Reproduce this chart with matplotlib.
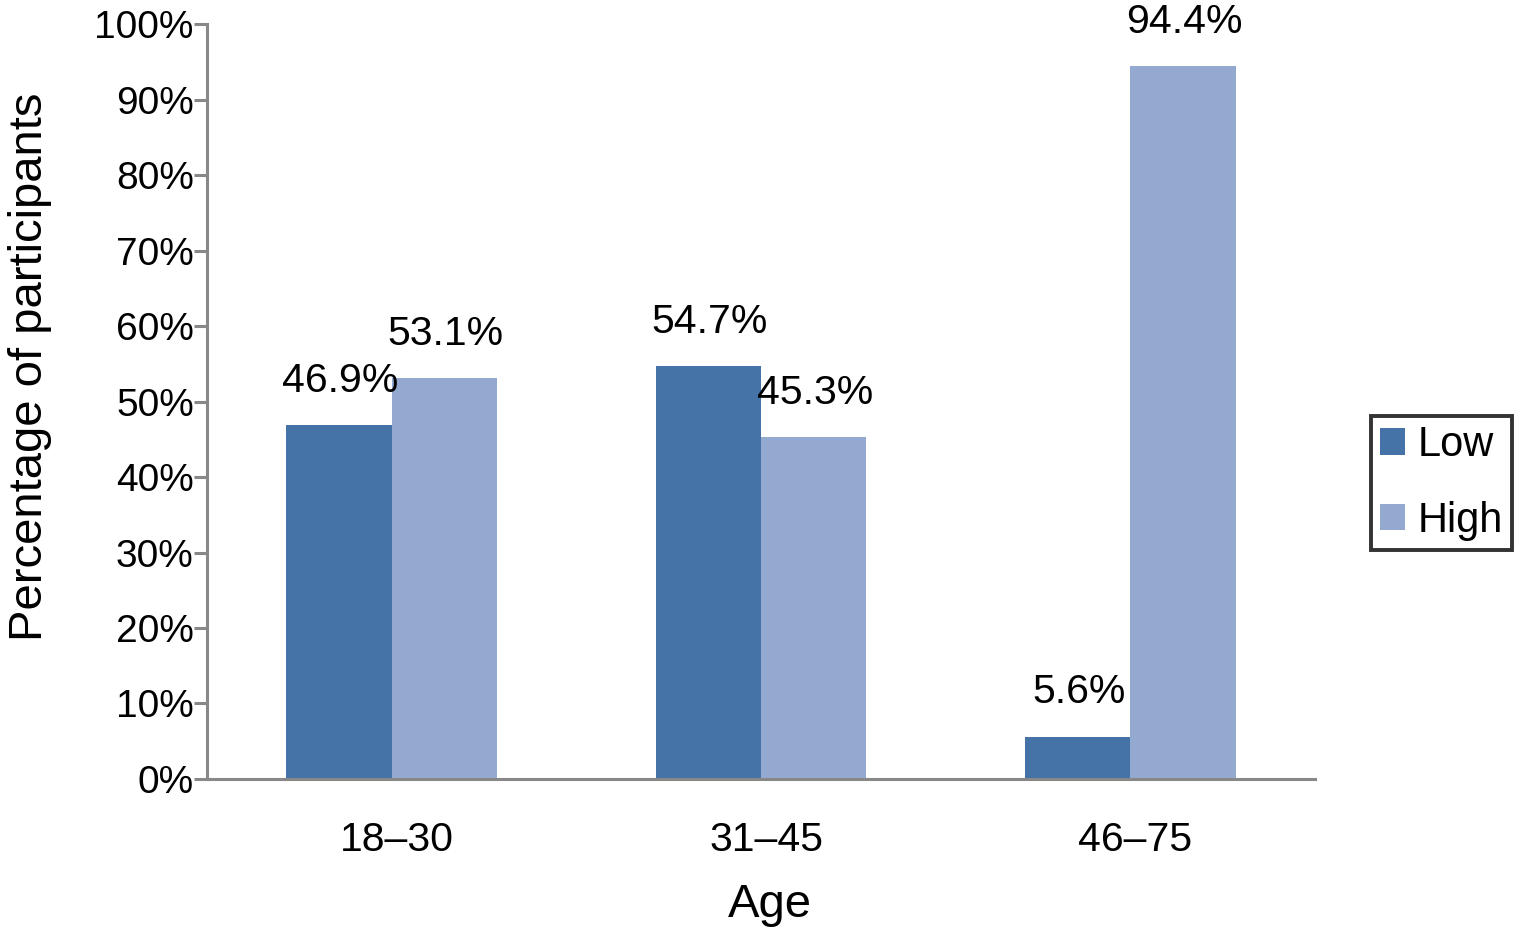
import matplotlib.pyplot as plt
import matplotlib.transforms as mtransforms
import numpy as np
from matplotlib.ticker import PercentFormatter

plt.rcParams['font.family'] = ['Liberation Sans', 'DejaVu Sans']

# Data
age_groups = ['18\u201330', '31\u201345', '46\u201375']
low = [46.9, 54.7, 5.6]
high = [53.1, 45.3, 94.4]
series_names = ['Low', 'High']
colors = ['#4572A7', '#93A9CF']

fig = plt.figure(figsize=(15.15, 9.3), dpi=100)
ax = fig.add_axes([0.1366, 0.1624, 0.868 - 0.1366, 0.974 - 0.1624])

x = np.arange(len(age_groups))
w = 0.285

# Bars for each series, side by side in each age group
bars_low = ax.bar(x - w / 2, low, w, color=colors[0], label=series_names[0])
bars_high = ax.bar(x + w / 2, high, w, color=colors[1], label=series_names[1])

# Value labels above the bars
for bars, vals in [(bars_low, low), (bars_high, high)]:
    for b, v in zip(bars, vals):
        ax.annotate('%.1f%%' % v, xy=(b.get_x() + b.get_width() / 2, v),
                    xytext=(1, 32), textcoords='offset points',
                    ha='center', va='center', fontsize=29.5)

ax.set_xlim(-0.5, 2.5)
ax.set_ylim(0, 100)
ax.set_yticks(np.arange(0, 101, 10))
ax.yaxis.set_major_formatter(PercentFormatter(decimals=0))
ax.set_xticks(x)
ax.set_xticklabels(age_groups)

# Axis styling: grey left and bottom lines only
for side in ['top', 'right']:
    ax.spines[side].set_visible(False)
for side in ['left', 'bottom']:
    ax.spines[side].set_color('#888888')
    ax.spines[side].set_linewidth(2.2)
ax.tick_params(axis='y', length=9.5, width=2.2, color='#888888', pad=0, labelsize=28)
ax.tick_params(axis='x', length=0, pad=30, labelsize=29.5)

# x tick labels sit a little right of the group centres in the original
shift = mtransforms.ScaledTranslation(5 / 100, 0, fig.dpi_scale_trans)
for lbl in ax.get_xticklabels():
    lbl.set_transform(lbl.get_transform() + shift)

fig.text(0.508, 0.027, 'Age', ha='center', va='center', fontsize=34)
fig.text(0.020, 0.606, 'Percentage of participants', ha='center', va='center',
         rotation=90, fontsize=34)

leg = fig.legend(loc='center', bbox_to_anchor=(0.9514, 0.4806), fontsize=30,
                 frameon=True, fancybox=False, handlelength=0.6, handleheight=0.6,
                 labelspacing=0.85, handletextpad=0.3, borderpad=0.22,
                 borderaxespad=0)
leg.get_frame().set_edgecolor('black')
leg.get_frame().set_linewidth(2.8)

plt.savefig('out.png')
